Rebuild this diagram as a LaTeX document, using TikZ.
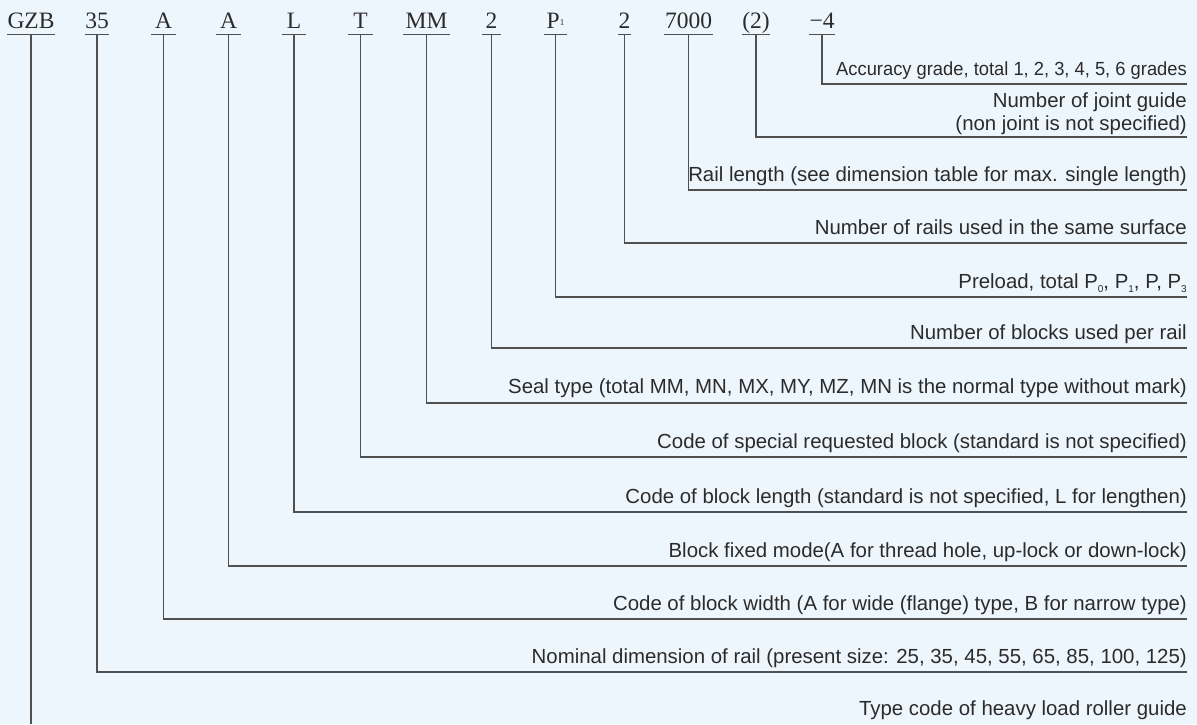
\documentclass[tikz,border=0pt]{standalone}
\usepackage{fontspec}
\setmainfont{Liberation Serif}
\newfontfamily\labelfont{Liberation Sans}
\definecolor{paper}{HTML}{EEF6FD}
\definecolor{ink}{HTML}{2B2B2B}
\definecolor{rulegray}{HTML}{505050}
\begin{document}
\begin{tikzpicture}[x=1pt,y=-1pt,
  codebox/.style={font=\fontsize{23.5}{24}\selectfont, text=ink, inner xsep=0pt,
    inner ysep=0pt, text height=17pt, text depth=6.5pt, anchor=base, minimum width=#1},
  lbl/.style={font=\labelfont\fontsize{20.4}{23}\selectfont, text=ink, inner sep=0pt,
    anchor=base east, align=right},
  rule/.style={draw=rulegray, line width=1.3pt}]
\fill[paper] (0,0) rectangle (1197,724);
\useasboundingbox (0,0) rectangle (1197,724);

% model code, one underlined field per item
\node[codebox=47]   (gzb)  at (31,28)  {GZB};
\node[codebox=24]   (size) at (97,28)  {35};
\node[codebox=24.5] (wid)  at (163.5,28) {A};
\node[codebox=24.5] (fix)  at (228.5,28) {A};
\node[codebox=24.5] (len)  at (294,28) {L};
\node[codebox=24.5] (spec) at (360.5,28) {T};
\node[codebox=46]   (seal) at (426.5,28) {MM};
\node[codebox=18.5] (blk)  at (491.5,28) {2};
\node[codebox=22.5] (pre)  at (555.5,28) {P\raisebox{2.5pt}{\fontsize{9}{9}\selectfont 1}};
\node[codebox=11]   (rails) at (624.5,28) {2};
\node[codebox=49.5] (rlen) at (688.5,28) {7000};
\node[codebox=25]   (joint) at (756,28) {(2)};
\node[codebox=18]   (acc)  at (822,28) {\char"2212 4};

\foreach \n in {gzb,size,wid,fix,len,spec,seal,blk,pre,rails,rlen,joint,acc}
  \draw[rule] (\n.south west) -- (\n.south east);

% explanations, right aligned above their leader lines
\node[lbl, font=\labelfont\fontsize{19}{22}\selectfont] (tacc) at (1187,75)
  {\scalebox{0.965}[1]{Accuracy grade, total 1, 2, 3, 4, 5, 6 grades}};
\node[lbl] (tjoint1) at (1187,107) {Number of joint guide};
\node[lbl] (tjoint2) at (1187,130) {(non joint is not specified)};
\node[lbl] (trlen) at (1187,181) {Rail length (see dimension table for max. single length)};
\node[lbl] (trails) at (1187,234) {Number of rails used in the same surface};
\node[lbl] (tpre) at (1187,288) {Preload, total
  P\raisebox{-4pt}{\fontsize{10}{10}\selectfont 0}, P\raisebox{-4pt}{\fontsize{10}{10}\selectfont 1}, P,
  P\raisebox{-4pt}{\fontsize{10}{10}\selectfont 3}};
\node[lbl] (tblk) at (1187,339) {Number of blocks used per rail};
\node[lbl] (tseal) at (1187,393) {Seal type (total MM, MN, MX, MY, MZ, MN is the normal type without mark)};
\node[lbl] (tspec) at (1187,448) {Code of special requested block (standard is not specified)};
\node[lbl] (tlen) at (1187,503) {Code of block length (standard is not specified, L for lengthen)};
\node[lbl] (tfix) at (1187,557) {Block fixed mode(A for thread hole, up-lock or down-lock)};
\node[lbl] (twid) at (1187,610) {Code of block width (A for wide (flange) type, B for narrow type)};
\node[lbl] (tsize) at (1187,663) {Nominal dimension of rail (present size: 25, 35, 45, 55, 65, 85, 100, 125)};
\node[lbl] (tgzb) at (1187,715) {Type code of heavy load roller guide};

% right ends of the leader lines
\coordinate (eacc)   at (1187,84);
\coordinate (ejoint) at (1187,137);
\coordinate (erlen)  at (1187,190);
\coordinate (erails) at (1187,243);
\coordinate (epre)   at (1187,297);
\coordinate (eblk)   at (1187,348);
\coordinate (eseal)  at (1187,403);
\coordinate (espec)  at (1187,457);
\coordinate (elen)   at (1187,512);
\coordinate (efix)   at (1187,566);
\coordinate (ewid)   at (1187,619);
\coordinate (esize)  at (1187,672);
\coordinate (egzb)   at (31,724);

\draw[rule] (acc.south)   |- (eacc);
\draw[rule] (joint.south) |- (ejoint);
\draw[rule] (rlen.south)  |- (erlen);
\draw[rule] (rails.south) |- (erails);
\draw[rule] (pre.south)   |- (epre);
\draw[rule] (blk.south)   |- (eblk);
\draw[rule] (seal.south)  |- (eseal);
\draw[rule] (spec.south)  |- (espec);
\draw[rule] (len.south)   |- (elen);
\draw[rule] (fix.south)   |- (efix);
\draw[rule] (wid.south)   |- (ewid);
\draw[rule] (size.south)  |- (esize);
\draw[rule] (gzb.south)   -- (egzb);
\end{tikzpicture}
\end{document}
